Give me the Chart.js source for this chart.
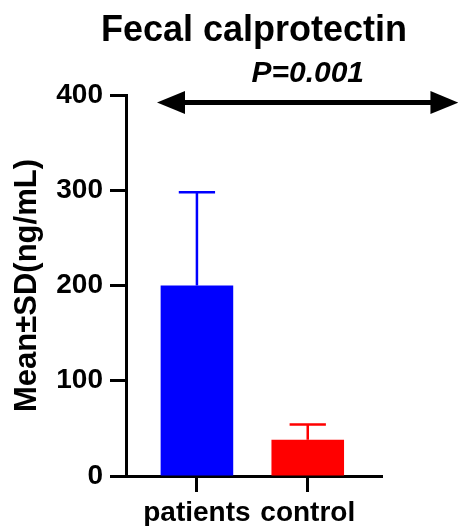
<!DOCTYPE html>
<html>
<head>
<meta charset="utf-8">
<script src="https://cdn.jsdelivr.net/npm/chart.js@4"></script>
<style>
  html, body { margin: 0; padding: 0; background: #fff; }
  #wrap { width: 458px; height: 526px; position: relative; }
</style>
</head>
<body>
<div id="wrap"><canvas id="grafica"></canvas></div>
<script>
// ===============================
// DATA
// ===============================
const titulo = "Fecal calprotectin";
const ejeY = "Mean\u00B1SD(ng/mL)";
const categorias = ["patients", "control"];
const medias = [200, 38];
const desviaciones = [98, 16];
const colores = ["#0000FF", "#FF0000"];
const yMin = 0, yMax = 400, yPaso = 100;

// comparison annotation (x in category units, y in data units)
const pTexto = "P=0.001";
const flechaDesde = -0.36, flechaHasta = 2.36, flechaY = 392;

const fuente = "'Liberation Sans', Arial, sans-serif";

// ===============================
// ERROR BARS (mean + SD, upward only)
// ===============================
const barrasError = {
    id: "barrasError",
    afterDatasetsDraw(chart) {
        const { ctx, scales: { x, y } } = chart;
        const meta = chart.getDatasetMeta(0);
        ctx.save();
        ctx.lineWidth = 2.5;
        medias.forEach((m, i) => {
            const px = x.getPixelForValue(i);
            const yTop = y.getPixelForValue(m + desviaciones[i]);
            const yBase = y.getPixelForValue(m);
            const half = meta.data[i].width / 4;
            ctx.strokeStyle = colores[i];
            ctx.beginPath();
            ctx.moveTo(px, yBase);
            ctx.lineTo(px, yTop);
            ctx.moveTo(px - half, yTop);
            ctx.lineTo(px + half, yTop);
            ctx.stroke();
        });
        ctx.restore();
    }
};

// ===============================
// TITLE + DOUBLE ARROW + P VALUE
// ===============================
const flechaP = {
    id: "flechaP",
    afterDraw(chart) {
        const { ctx, chartArea, scales: { x, y } } = chart;
        const x1 = x.getPixelForValue(flechaDesde);
        const x2 = x.getPixelForValue(flechaHasta);
        const py = y.getPixelForValue(flechaY);
        const largo = 28, alto = 11.5;
        ctx.save();
        ctx.fillStyle = "#000";
        ctx.strokeStyle = "#000";

        // title, centred over the plot area
        ctx.font = "bold 36px " + fuente;
        ctx.textAlign = "center";
        ctx.textBaseline = "middle";
        ctx.fillText(titulo, (chartArea.left + chartArea.right) / 2, 31);

        ctx.lineWidth = 5;
        ctx.beginPath();
        ctx.moveTo(x1 + largo - 2, py);
        ctx.lineTo(x2 - largo + 2, py);
        ctx.stroke();
        ctx.beginPath();
        ctx.moveTo(x1, py);
        ctx.lineTo(x1 + largo, py - alto);
        ctx.lineTo(x1 + largo, py + alto);
        ctx.closePath();
        ctx.fill();
        ctx.beginPath();
        ctx.moveTo(x2, py);
        ctx.lineTo(x2 - largo, py - alto);
        ctx.lineTo(x2 - largo, py + alto);
        ctx.closePath();
        ctx.fill();

        ctx.font = "italic bold 30px " + fuente;
        ctx.fillText(pTexto, (x1 + x2) / 2, py - 29);
        ctx.restore();
    }
};

// ===============================
// CHART
// ===============================
new Chart(document.getElementById("grafica"), {
    type: "bar",
    data: {
        datasets: [{
            data: medias.map((m, i) => ({ x: i, y: m })),
            backgroundColor: colores,
            borderWidth: 0,
            categoryPercentage: 1,
            barPercentage: 0.655
        }]
    },
    options: {
        responsive: true,
        maintainAspectRatio: false,
        animation: false,
        layout: { padding: { top: 95, right: 76, bottom: 0, left: 0 } },
        plugins: {
            legend: { display: false },
            tooltip: { enabled: false },
            title: { display: false }
        },
        scales: {
            x: {
                type: "linear",
                offset: false,
                min: -0.64,
                max: 1.67,
                afterBuildTicks: s => { s.ticks = categorias.map((c, i) => ({ value: i })); },
                afterFit: s => { s.height = 50; },
                border: { display: true, color: "#000", width: 3 },
                grid: { offset: false, drawOnChartArea: false, drawTicks: true, tickLength: 16, tickWidth: 3, tickColor: "#000" },
                ticks: {
                    callback: v => categorias[v],
                    autoSkip: false,
                    maxRotation: 0,
                    padding: 4,
                    color: "#000",
                    font: { family: fuente, size: 28, weight: "bold" }
                }
            },
            y: {
                min: yMin,
                max: yMax,
                afterFit: s => { s.width = 126; },
                border: { display: true, color: "#000", width: 3 },
                grid: { drawOnChartArea: false, drawTicks: true, tickLength: 16, tickWidth: 3, tickColor: "#000" },
                ticks: {
                    stepSize: yPaso,
                    padding: 7,
                    color: "#000",
                    font: { family: fuente, size: 28, weight: "bold" }
                },
                title: {
                    display: true,
                    text: ejeY,
                    color: "#000",
                    padding: { top: 9, bottom: 0 },
                    font: { family: fuente, size: 31, weight: "bold" }
                }
            }
        }
    },
    plugins: [barrasError, flechaP]
});
</script>
</body>
</html>
